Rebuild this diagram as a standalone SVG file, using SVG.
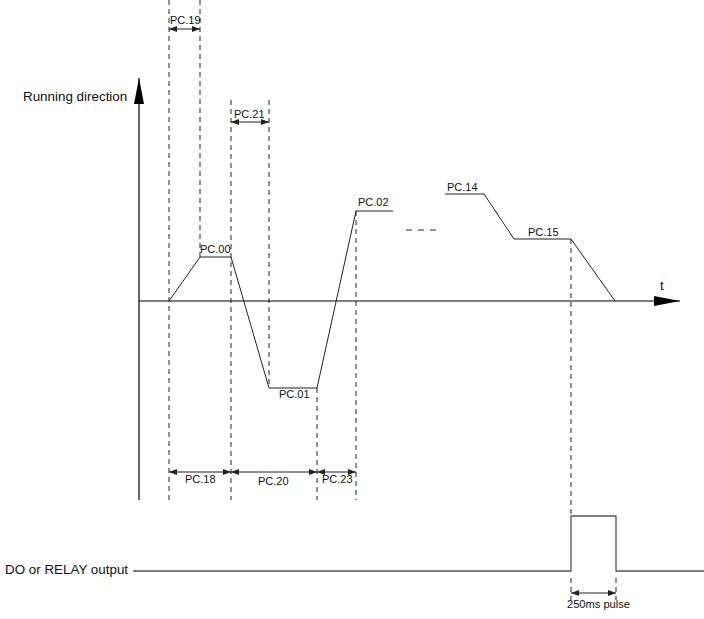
<svg xmlns="http://www.w3.org/2000/svg" width="704" height="619" viewBox="0 0 704 619">
<style>
text{font-family:"Liberation Sans",Arial,sans-serif;fill:#111}
.lbl{font-size:11px}
.big{font-size:13.4px}
.dash{stroke:#222;stroke-width:1;stroke-dasharray:5,4;fill:none}
.prof{stroke:#222;stroke-width:1;fill:none}
.dim{stroke:#222;stroke-width:1;fill:none;marker-start:url(#ah);marker-end:url(#ah)}
.out{stroke:#555;stroke-width:1.3;fill:none}
</style>
<defs>
<marker id="ah" viewBox="0 0 8 6" refX="8" refY="3" markerWidth="8" markerHeight="6" markerUnits="userSpaceOnUse" orient="auto-start-reverse">
<path d="M0,0 L8,3 L0,6 Z" fill="#222"/>
</marker>
<marker id="big" viewBox="0 0 26 10" refX="26" refY="5" markerWidth="26" markerHeight="10" markerUnits="userSpaceOnUse" orient="auto">
<path d="M0,0 L26,5 L0,10 Z" fill="#000"/>
</marker>
</defs>

<g id="axes">
<line x1="139" y1="500" x2="139" y2="78" stroke="#000" stroke-width="1.2" marker-end="url(#big)"/>
<line x1="139" y1="301" x2="680" y2="301" stroke="#000" stroke-width="1.2" marker-end="url(#big)"/>
<text class="big" x="23" y="101">Running direction</text>
<text class="big" x="660" y="290">t</text>
</g>

<g id="guides">
<line class="dash" x1="169" y1="0" x2="169" y2="500"/>
<line class="dash" x1="200" y1="0" x2="200" y2="257"/>
<line class="dash" x1="231" y1="100" x2="231" y2="500"/>
<line class="dash" x1="269" y1="100" x2="269" y2="388"/>
<line class="dash" x1="317" y1="388" x2="317" y2="500"/>
<line class="dash" x1="356" y1="211" x2="356" y2="500"/>
<line class="dash" x1="571" y1="239" x2="571" y2="516"/>
<line class="dash" x1="571" y1="578" x2="571" y2="600"/>
<line class="dash" x1="616" y1="578" x2="616" y2="600"/>
</g>

<g id="profile">
<polyline class="prof" points="169,301 200,257 231,257 269,388 317,388 356,211 393,211"/>
<line class="prof" x1="406" y1="230" x2="440" y2="230" stroke-dasharray="6,6" stroke-width="1.5"/>
<polyline class="prof" points="445,194 484,194 514,239 571,239 615,301"/>
<text class="lbl" x="200" y="253">PC.00</text>
<text class="lbl" x="279" y="398">PC.01</text>
<text class="lbl" x="358" y="206">PC.02</text>
<text class="lbl" x="447" y="191">PC.14</text>
<text class="lbl" x="528" y="236">PC.15</text>
</g>

<g id="connectors">
<line class="dim" x1="169" y1="29" x2="200" y2="29"/>
<line class="dim" x1="231" y1="122" x2="269" y2="122"/>
<line class="dim" x1="169" y1="472" x2="231" y2="472"/>
<line class="dim" x1="231" y1="472" x2="317" y2="472"/>
<line class="dim" x1="317" y1="472" x2="356" y2="472"/>
<line class="dim" x1="571" y1="593" x2="616" y2="593"/>
</g>

<g id="dim-labels">
<text class="lbl" x="170" y="24">PC.19</text>
<text class="lbl" x="234" y="118">PC.21</text>
<text class="lbl" x="185" y="483">PC.18</text>
<text class="lbl" x="258" y="485">PC.20</text>
<text class="lbl" x="322" y="483">PC.23</text>
<text class="lbl" x="567" y="608" textLength="63" lengthAdjust="spacingAndGlyphs">250ms pulse</text>
</g>

<g id="output">
<text class="big" x="5" y="574">DO or RELAY output</text>
<polyline class="out" points="133,571 571,571 571,516 616,516 616,571 704,571"/>
</g>
</svg>
